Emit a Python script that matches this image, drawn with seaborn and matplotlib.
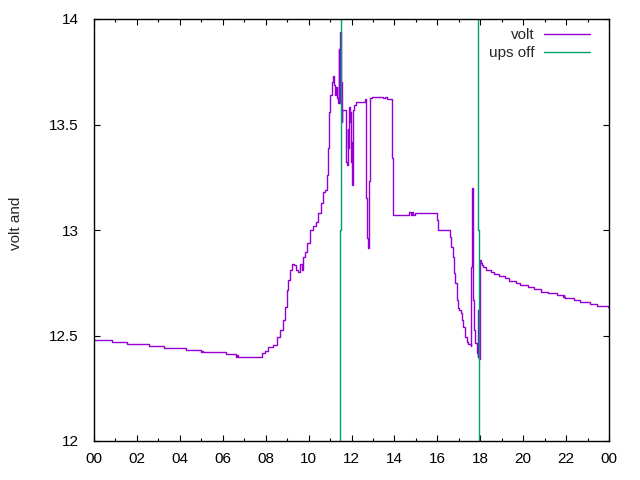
import pandas as pd
import matplotlib
matplotlib.use("Agg")
import matplotlib.pyplot as plt
import seaborn as sns

# volt readings over the day (hour of day, volts)
hours = [0.00, 0.82, 0.82, 1.52, 1.52, 2.56, 2.56, 3.26, 3.26, 4.29, 4.29, 4.94,
         4.97, 5.02, 5.08, 6.15, 6.15, 6.60, 6.63, 6.66, 6.71, 7.74, 7.81, 7.97,
         8.12, 8.33, 8.51, 8.67, 8.79, 8.90, 8.98, 9.06, 9.13, 9.24, 9.33, 9.41,
         9.49, 9.60, 9.69, 9.75, 9.83, 9.94, 10.07, 10.22, 10.35, 10.45, 10.58,
         10.69, 10.77, 10.84, 10.89, 10.95, 11.01, 11.08, 11.12, 11.18, 11.23,
         11.28, 11.32, 11.37, 11.41, 11.43, 11.44, 11.47, 11.49, 11.56, 11.57,
         11.73, 11.74, 11.76, 11.79, 11.82, 11.85, 11.88, 11.92, 11.94, 11.98,
         12.01, 12.04, 12.07, 12.10, 12.19, 12.62, 12.66, 12.69, 12.74, 12.77,
         12.80, 12.83, 12.86, 12.94, 13.33, 13.48, 13.56, 13.64, 13.87, 13.89,
         13.92, 14.65, 14.69, 14.77, 14.82, 14.88, 14.96, 15.97, 16.00, 16.04,
         16.56, 16.59, 16.64, 16.72, 16.78, 16.82, 16.90, 16.98, 17.02, 17.09,
         17.15, 17.21, 17.29, 17.37, 17.44, 17.55, 17.58, 17.61, 17.65, 17.68,
         17.71, 17.77, 17.83, 17.88, 17.91, 17.92, 17.99, 18.03, 18.07, 18.11,
         18.27, 18.49, 18.64, 18.89, 19.15, 19.35, 19.67, 19.85, 20.24, 20.51,
         20.82, 21.17, 21.59, 21.87, 21.89, 21.91, 21.95, 22.37, 22.65, 23.11,
         23.43, 23.97, 24.00]
volts = [12.479, 12.479, 12.469, 12.469, 12.460, 12.460, 12.450, 12.450, 12.441,
         12.441, 12.431, 12.431, 12.422, 12.427, 12.422, 12.422, 12.412, 12.412,
         12.399, 12.408, 12.399, 12.399, 12.418, 12.428, 12.447, 12.455, 12.494,
         12.526, 12.573, 12.637, 12.716, 12.763, 12.810, 12.837, 12.834, 12.810,
         12.799, 12.837, 12.810, 12.871, 12.897, 12.937, 13.000, 13.019, 13.039,
         13.079, 13.126, 13.182, 13.190, 13.260, 13.387, 13.561, 13.640, 13.703,
         13.730, 13.687, 13.640, 13.680, 13.624, 13.600, 13.600, 13.860, 13.600,
         13.940, 13.700, 13.513, 13.569, 13.569, 13.458, 13.324, 13.310, 13.480,
         13.387, 13.584, 13.513, 13.561, 13.324, 13.418, 13.213, 13.569, 13.592,
         13.608, 13.619, 13.466, 13.150, 12.960, 12.913, 13.008, 13.230, 13.624,
         13.632, 13.632, 13.624, 13.632, 13.619, 13.619, 13.340, 13.071, 13.071,
         13.087, 13.071, 13.087, 13.071, 13.079, 13.079, 13.047, 13.000, 13.000,
         12.968, 12.921, 12.873, 12.795, 12.747, 12.668, 12.629, 12.621, 12.605,
         12.573, 12.542, 12.494, 12.470, 12.458, 12.450, 12.826, 13.197, 12.905,
         12.668, 12.526, 12.463, 12.415, 12.400, 12.621, 12.390, 12.858, 12.845,
         12.834, 12.823, 12.810, 12.803, 12.791, 12.782, 12.771, 12.760, 12.747,
         12.739, 12.728, 12.719, 12.708, 12.700, 12.692, 12.684, 12.692, 12.684,
         12.676, 12.668, 12.657, 12.649, 12.640, 12.636, 12.630]

# ups off events (drawn as near-vertical traces running off the plot)
ups1_hours = [11.46, 11.46, 11.51, 11.51]
ups1_volts = [11.0, 13.0, 13.0, 15.0]
ups2_hours = [17.95, 17.95, 17.91, 17.91]
ups2_volts = [11.0, 13.0, 13.0, 15.0]

x_ticks = list(range(0, 25, 2))
x_labels = ["00", "02", "04", "06", "08", "10", "12", "14", "16", "18", "20", "22", "00"]
y_ticks = [12, 12.5, 13, 13.5, 14]
y_labels = ["12", "12.5", "13", "13.5", "14"]

sns.set_style("ticks")
plt.rcParams["font.family"] = ["Liberation Sans", "DejaVu Sans"]
plt.rcParams["font.size"] = 11

df = pd.DataFrame({"hour": hours, "volt": volts})
ups1 = pd.DataFrame({"hour": ups1_hours, "volt": ups1_volts})
ups2 = pd.DataFrame({"hour": ups2_hours, "volt": ups2_volts})

fig = plt.figure(figsize=(6.4, 4.8), dpi=100)
ax = fig.add_axes([94 / 640, 39 / 480, 515 / 640, 422 / 480])

sns.lineplot(data=df, x="hour", y="volt", ax=ax, sort=False, estimator=None,
             color="#9400d3", lw=1, drawstyle="steps-post", label="volt")
sns.lineplot(data=ups1, x="hour", y="volt", ax=ax, sort=False, estimator=None,
             color="#009e73", lw=1, label="ups off")
sns.lineplot(data=ups2, x="hour", y="volt", ax=ax, sort=False, estimator=None,
             color="#009e73", lw=1)

ax.set_xlim(0, 24)
ax.set_ylim(12, 14)
ax.set_xticks(x_ticks)
ax.set_xticklabels(x_labels)
ax.set_xticks(range(0, 25), minor=True)
ax.set_yticks(y_ticks)
ax.set_yticklabels(y_labels)
ax.tick_params(axis="both", which="both", direction="in", top=True, right=True,
               colors="black", labelsize=11)
ax.tick_params(axis="both", which="major", length=4, width=0.8)
ax.tick_params(axis="both", which="minor", length=2, width=0.8)
ax.tick_params(axis="x", pad=8)
ax.tick_params(axis="y", pad=11)
for s in ax.spines.values():
    s.set_visible(True)
    s.set_color("black")
    s.set_linewidth(1)

ax.set_xlabel("")
ax.set_ylabel("volt and", fontsize=11)
ax.yaxis.set_label_coords(-0.138, 0.515)

ax.legend(loc="upper right", bbox_to_anchor=(0.963, 0.978), frameon=False,
          markerfirst=False, handlelength=3.0, handletextpad=0.6,
          labelspacing=0.25, borderpad=0, borderaxespad=0, fontsize=11)

fig.savefig("out.png", dpi=100)
